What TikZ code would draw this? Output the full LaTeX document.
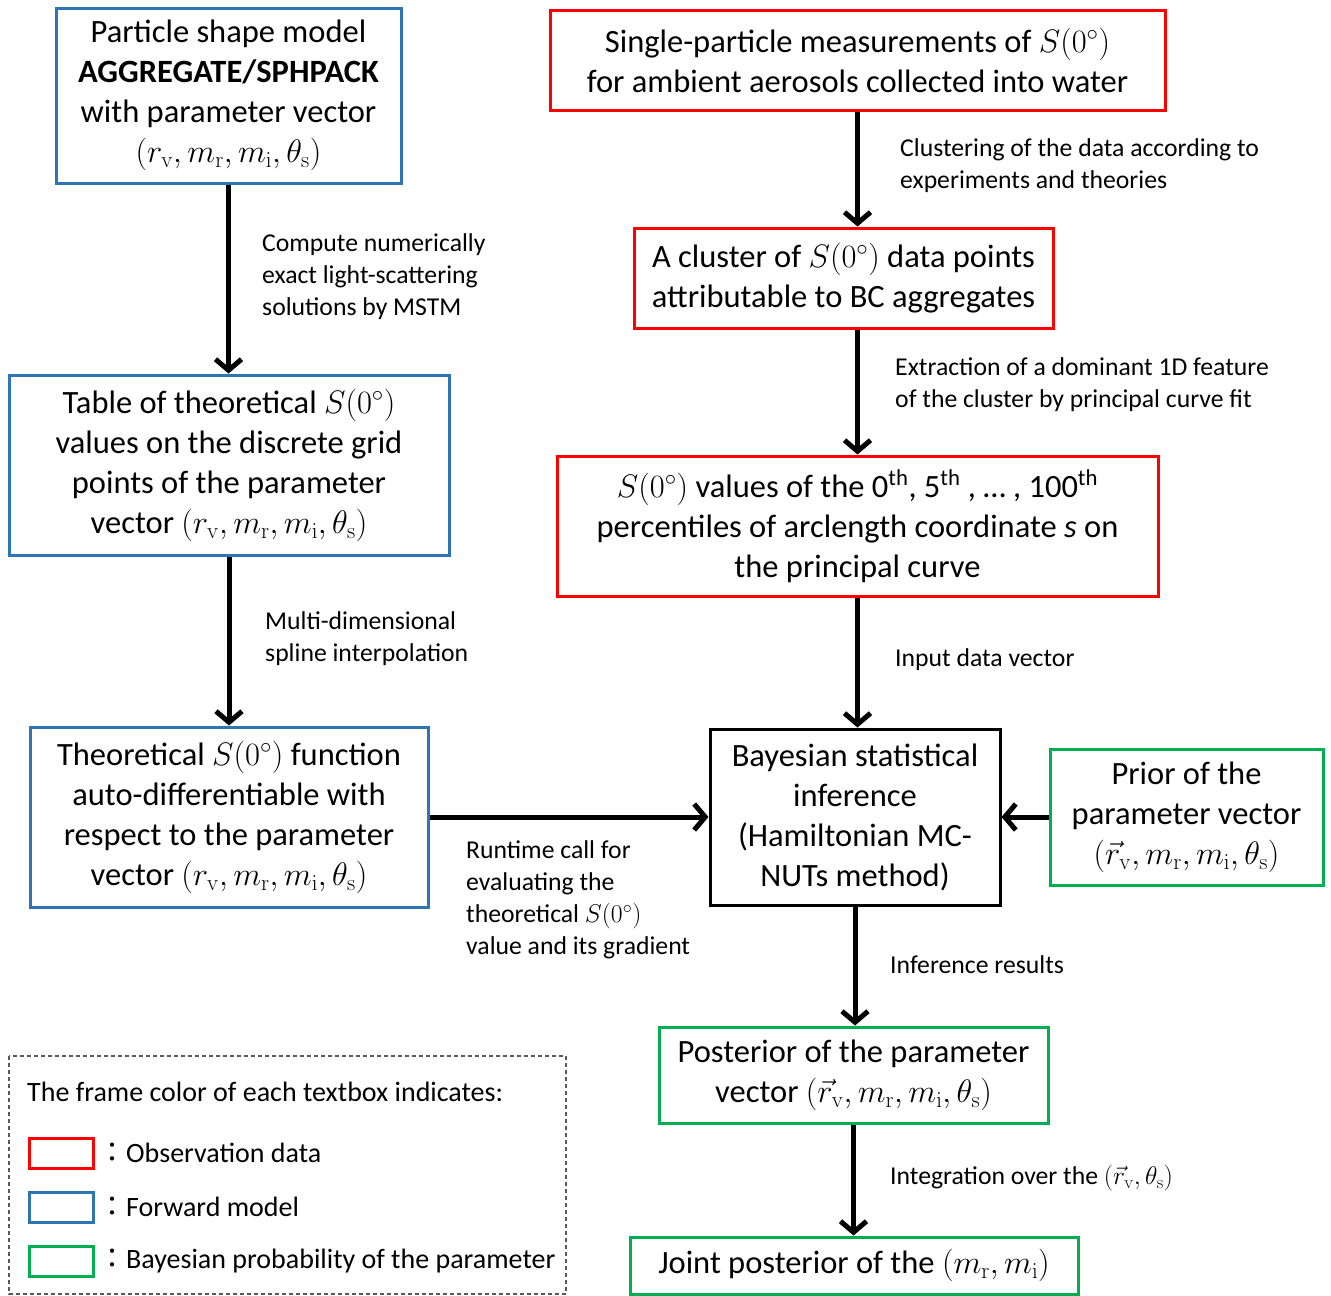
\RequirePackage{fix-cm}
\documentclass[tikz,border=0pt]{standalone}
\usepackage[no-math]{fontspec}
\setmainfont{Carlito}
\newfontfamily\cjkfont{Noto Sans CJK JP}
\usetikzlibrary{arrows.meta}
\definecolor{cred}{HTML}{FF0000}
\definecolor{cblue}{HTML}{2E75B6}
\definecolor{cgreen}{HTML}{00B050}
\newcommand{\Szero}{$S\bigl(0^{\circ}\bigr)$}
\newcommand{\pvec}{$(r_{\mathrm{v}},m_{\mathrm{r}},m_{\mathrm{i}},\theta_{\mathrm{s}})$}
\newcommand{\pvecr}{$(\vec{r}_{\mathrm{v}},m_{\mathrm{r}},m_{\mathrm{i}},\theta_{\mathrm{s}})$}
\begin{document}
\begin{tikzpicture}[x=1pt,y=-1pt,
 box/.style={draw, line width=3pt, inner sep=0pt, align=center, font=\fontsize{32.5}{40}\selectfont},
 lbl/.style={anchor=west, align=left, inner sep=0pt, font=\fontsize{25.7}{32}\selectfont},
 leg/.style={anchor=west, align=left, inner sep=0pt, font=\fontsize{28}{31}\selectfont},
 arr/.style={line width=5pt, -{Straight Barb[length=11pt,width=26pt]}},
 swatch/.style={line width=3pt}]
\useasboundingbox (0,0) rectangle (1331,1296);
\fill[white] (0,0) rectangle (1331,1296);
% boxes
\node[box, draw=cblue, minimum width=345pt, minimum height=175pt] (part) at (228.5,95.5)
  {Particle shape model\\\textbf{AGGREGATE/SPHPACK}\\with parameter vector\\\pvec};
\node[box, draw=cred, minimum width=615pt, minimum height=100pt] (single) at (857.5,60)
  {Single-particle measurements of \Szero\\for ambient aerosols collected into water};
\node[box, draw=cred, minimum width=419pt, minimum height=100pt] (cluster) at (843.5,278)
  {A cluster of \Szero{} data points\\attributable to BC aggregates};
\node[box, draw=cred, minimum width=601pt, minimum height=140pt] (svals) at (857.5,526)
  {\Szero{} values of the 0\textsuperscript{th}, 5\textsuperscript{th} , \dots{} , 100\textsuperscript{th}\\percentiles of arclength coordinate \textit{s} on\\the principal curve};
\node[box, draw=cblue, minimum width=440pt, minimum height=180pt] (table) at (229,465)
  {Table of theoretical \Szero\\values on the discrete grid\\points of the parameter\\vector \pvec};
\node[box, draw=cblue, minimum width=398pt, minimum height=180pt] (theo) at (229,817)
  {Theoretical \Szero{} function\\auto-differentiable with\\respect to the parameter\\vector \pvec};
\node[box, draw=black, minimum width=290pt, minimum height=176pt] (bayes) at (855,817)
  {Bayesian statistical\\inference\\(Hamiltonian MC-\\NUTs method)};
\node[box, draw=cgreen, minimum width=273pt, minimum height=136pt] (prior) at (1186.5,817)
  {Prior of the\\parameter vector\\\pvecr};
\node[box, draw=cgreen, minimum width=389pt, minimum height=96pt] (post) at (853.5,1075)
  {Posterior of the parameter\\vector \pvecr};
\node[box, draw=cgreen, minimum width=448pt, minimum height=57pt] (joint) at (854,1265.5)
  {Joint posterior of the $(m_{\mathrm{r}},m_{\mathrm{i}})$};
% arrows
\draw[arr] (part.south) -- (part.south |- table.north);
\draw[arr] (single.south) -- (single.south |- cluster.north);
\draw[arr] (svals.north |- cluster.south) -- (svals.north);
\draw[arr] (svals.south) -- (svals.south |- bayes.north);
\draw[arr] (table.south) -- (table.south |- theo.north);
\draw[arr] (theo.east) -- (bayes.west);
\draw[arr] (prior.west) -- (bayes.east);
\draw[arr] (bayes.south) -- (bayes.south |- post.north);
\draw[arr] (post.south) -- (post.south |- joint.north);
% labels
\node[lbl] (l1) at (262,276.5) {Compute numerically\\exact light-scattering\\solutions by MSTM};
\node[lbl] (l2) at (900,165.5) {Clustering of the data according to\\experiments and theories};
\node[lbl] (l3) at (895,384.5) {Extraction of a dominant 1D feature\\of the cluster by principal curve fit};
\node[lbl] (l4) at (265,638.5) {Multi-dimensional\\spline interpolation};
\node[lbl] (l5) at (895,660) {Input data vector};
\node[lbl] (l6) at (466,900) {Runtime call for\\evaluating the\\theoretical \Szero\\value and its gradient};
\node[lbl] (l7) at (890,965) {Inference results};
\node[lbl] (l8) at (890,1178) {Integration over the $(\vec{r}_{\mathrm{v}},\theta_{\mathrm{s}})$};
% legend
\draw[gray!70!black, line width=1.2pt, dash pattern=on 4pt off 3pt] (9,1056) rectangle (566,1294);
\node[leg] (lt) at (27,1092) {The frame color of each textbox indicates:};
\draw[swatch, cred] (29,1138) rectangle (93,1168);
\draw[swatch, cblue] (29,1192) rectangle (93,1222);
\draw[swatch, cgreen] (29,1246) rectangle (93,1276);
\node[leg] (la) at (98,1153) {{\cjkfont ：}Observation data};
\node[leg] (lb) at (98,1207) {{\cjkfont ：}Forward model};
\node[leg] (lc) at (98,1261) {{\cjkfont ：}Bayesian probability of the parameter};
\end{tikzpicture}
\end{document}
